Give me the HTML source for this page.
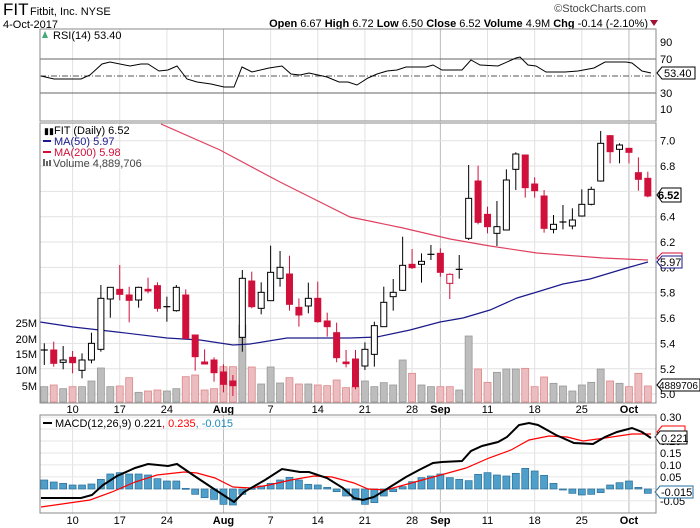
<!DOCTYPE html>
<html><head><meta charset="utf-8"><style>
html,body{margin:0;padding:0;background:#fff}
svg{display:block;font-family:"Liberation Sans",sans-serif}
</style></head><body>
<svg id="s" width="700" height="528" xmlns="http://www.w3.org/2000/svg">
<text x="3" y="15" font-size="17" fill="#000">FIT</text>
<text x="30" y="15" font-size="11" fill="#000">Fitbit, Inc.  NYSE</text>
<text x="3" y="28" font-size="11" fill="#000">4-Oct-2017</text>
<text x="646" y="12" font-size="11" fill="#444" text-anchor="end">©StockCharts.com</text>
<text x="648" y="27" font-size="11" fill="#000" text-anchor="end"><tspan font-weight="bold">Open</tspan> 6.67 <tspan font-weight="bold">High</tspan> 6.72 <tspan font-weight="bold">Low</tspan> 6.50 <tspan font-weight="bold">Close</tspan> 6.52 <tspan font-weight="bold">Volume</tspan> 4.9M <tspan font-weight="bold">Chg</tspan> -0.14 (-2.10%)</text>
<polygon points="650,20 658,20 654,26" fill="#a01030"/>
<g id="g"></g>
</svg>
<script>
var NS="http://www.w3.org/2000/svg",G=document.getElementById("g");
function el(t,a,txt){var e=document.createElementNS(NS,t);for(var k in a)e.setAttribute(k,a[k]);if(txt!=null)e.textContent=txt;G.appendChild(e);return e;}
function X(i){return 44.3+i*9.43;}
var L=40,R=656;
// panels
var panels=[[29,121],[123,403],[415,513]];
// vertical grid
var wk=[[3,"10"],[8,"17"],[13,"24"],[19,"Aug",1],[24,"7"],[29,"14"],[34,"21"],[39,"28"],[42,"Sep",1],[47,"11"],[52,"18"],[57,"25"],[62,"Oct",1]];
panels.forEach(function(p){
 el("rect",{x:L,y:p[0],width:R-L,height:p[1]-p[0],fill:"#fff",stroke:"none"});
 wk.forEach(function(w){el("line",{x1:X(w[0]),x2:X(w[0]),y1:p[0],y2:p[1],stroke:w[2]?"#bbb":"#e2e2e2","stroke-width":1});});
});
// RSI
[[42,"90"],[59,"70"],[93,"30"],[109,"10"]].forEach(function(a){el("text",{x:660,y:a[0]+4,"font-size":11},a[1]);});
el("line",{x1:L,x2:R,y1:59,y2:59,stroke:"#666"});
el("line",{x1:L,x2:R,y1:93,y2:93,stroke:"#666"});
el("line",{x1:L,x2:R,y1:76,y2:76,stroke:"#555","stroke-dasharray":"6,2,1,2"});
var rsi=[[41,76],[54,79],[81,79],[90,75],[102,64],[110,62],[130,66],[141,64],[148,64],[159,71],[168,70],[177,66],[187,79],[197,82],[211,84],[224,87],[234,87],[242,67],[252,72],[269,68],[282,66],[291,74],[300,75],[309,73],[327,77],[339,82],[348,82],[357,85],[368,78],[377,74],[387,71],[397,70],[406,67],[426,67],[433,65],[442,70],[462,70],[471,60],[480,65],[498,66],[516,58],[520,57],[528,65],[536,66],[546,72],[565,72],[578,71],[594,68],[605,62],[626,62],[632,63],[642,71],[651,73]];
el("polyline",{points:rsi.join(" "),fill:"none",stroke:"#000","stroke-width":1});
el("text",{x:53,y:39,"font-size":11},"RSI(14) 53.40");
el("polygon",{points:"42,38 45,31 48,38",fill:"#4a7"});
el("polygon",{points:"657,73 662,67 695,67 695,79 662,79",fill:"#fff",stroke:"#000"});
el("text",{x:664,y:77,"font-size":11},"53.40");
// main grid horizontal
function PY(p){return 140.7+(7-p)*126.7;}
for(var p=5.0;p<=7.01;p+=0.2){var y=PY(p);el("line",{x1:L,x2:R,y1:y,y2:y,stroke:"#e2e2e2"});el("text",{x:660,y:y+4,"font-size":11},p.toFixed(1));}
// volume labels
[[323,"25M"],[339,"20M"],[354,"15M"],[370,"10M"],[386,"5M"]].forEach(function(a){el("text",{x:37,y:a[0]+4,"font-size":11,"text-anchor":"end"},a[1]);});
// volumes (tops in zoom coords, zero 844)
var vol=[[800,0],[795,1],[806,0],[800,1],[800,0],[783,0],[744,0],[800,0],[798,1],[773,1],[817,0],[813,1],[810,1],[813,0],[806,0],[770,1],[765,1],[810,1],[806,1],[740,1],[740,1],[615,0],[741,1],[792,0],[741,0],[789,0],[773,1],[792,1],[792,0],[795,1],[797,1],[780,1],[803,1],[800,1],[783,0],[800,0],[788,0],[795,0],[720,0],[760,1],[795,0],[800,0],[800,1],[800,1],[810,0],[648,0],[747,1],[787,1],[757,0],[747,0],[747,0],[745,1],[800,1],[771,1],[790,0],[798,0],[813,0],[795,0],[787,0],[747,0],[783,1],[790,0],[800,1],[760,1],[798,1]];
vol.forEach(function(v,i){var t=120+v[0]/3;el("rect",{x:X(i)-3.5,y:t,width:7,height:402-t,fill:v[1]?"#ebbcc0":"#bdbdbd",stroke:v[1]?"#d88":"#999","stroke-width":0.8});});
// MAs
var ma200=[[161,124],[220,150],[280,182],[310,197],[350,217],[403,228],[450,239],[490,246],[537,253],[603,258],[648,260]];
el("polyline",{points:ma200.join(" "),fill:"none",stroke:"#e04060","stroke-width":1.2});
var ma50=[[40,322],[73,327],[117,332],[167,338],[200,340],[233,345],[250,344],[287,338],[350,338],[377,337],[410,330],[440,322],[463,318],[490,310],[517,298],[537,292],[563,284],[590,279],[610,273],[630,267],[648,262]];
el("polyline",{points:ma50.join(" "),fill:"none",stroke:"#1a1a8c","stroke-width":1.2});
// candles: [zoomIndex(2|3), open/close top, bottom, hi, lo, type] type:0 hollow black,1 red,2 cross,3 hollow red
var c=[[2,690,690,670,735,2],[2,690,730,665,740,1],[2,720,727,678,748,0],[2,712,728,693,760,1],[2,720,751,700,775,0],[2,670,720,638,730,0],[2,535,688,495,695,0],[2,502,537,502,593,0],[2,508,523,435,541,1],[2,525,541,500,607,1],[2,502,540,500,563,0],[2,508,513,473,520,1],[2,497,565,487,575,1],[2,560,560,530,605,2],[2,502,572,495,575,0],[2,525,655,508,657,1],[2,645,710,645,752,1],[2,726,732,688,733,1],[2,720,758,712,785,1],[2,756,793,733,817,1],[2,783,797,765,828,1],[2,475,652,450,695,0],[2,483,560,455,565,1],[2,517,565,487,583,0],[2,457,542,377,542,0],[2,442,475,393,500,0],[2,462,553,407,572,1],[2,562,585,535,620,1],[2,535,558,488,580,0],[2,535,605,485,608,1],[2,603,620,578,650,1],[2,638,713,608,727,1],[2,726,731,690,742,1],
[3,717,800,690,808,1],[3,688,738,667,750,0],[3,617,703,605,740,0],[3,547,620,500,620,0],[3,517,530,477,572,0],[3,436,511,350,513,0],[3,433,443,387,447,1],[3,424,433,400,488,0],[3,403,403,375,420,2],[3,400,457,385,470,1],[3,463,490,460,537,3],[3,448,448,405,476,2],[3,235,355,135,360,0],[3,183,307,137,313,1],[3,283,320,260,340,1],[3,320,340,243,378,0],[3,180,330,148,330,0],[3,102,148,97,210,0],[3,105,203,105,233,1],[3,192,212,172,233,1],[3,228,325,210,338,1],[3,313,328,285,340,0],[3,306,306,255,328,2],[3,300,318,265,328,0],[3,253,288,208,290,0],[3,208,253,200,256,0],[3,70,183,33,185,0],[3,47,95,45,130,1],[3,75,88,70,130,0],[3,85,97,85,130,1],[3,158,178,112,212,1],[3,175,228,155,232,1]];
c.forEach(function(d,i){var x=X(i),f=function(z){return 120+z/3;};var t=d[5];
 var col=(t==1||t==3)?"#d0103a":"#000";
 el("line",{x1:x,x2:x,y1:f(d[3]),y2:f(d[4]),stroke:col,"stroke-width":1});
 if(t==2){el("line",{x1:x-3.5,x2:x+3.5,y1:f(d[1]),y2:f(d[1]),stroke:"#000","stroke-width":1.2});return;}
 var h=Math.max(f(d[2])-f(d[1]),1.5);
 el("rect",{x:x-3,y:f(d[1]),width:6,height:h,fill:t==1?"#d0103a":"#fff",stroke:col,"stroke-width":1});
});
// legend
el("text",{x:54,y:134,"font-size":11},"FIT (Daily) 6.52");
el("text",{x:44,y:134,"font-size":9},"▮▮");
el("line",{x1:43,x2:51,y1:141,y2:141,stroke:"#1a1a8c","stroke-width":2});
el("text",{x:54,y:145,"font-size":11,fill:"#1a1a8c"},"MA(50) 5.97");
el("line",{x1:43,x2:51,y1:152,y2:152,stroke:"#d0103a","stroke-width":2});
el("text",{x:54,y:156,"font-size":11,fill:"#d0103a"},"MA(200) 5.98");
el("rect",{x:43,y:159,width:2,height:7,fill:"#666"});el("rect",{x:46,y:161,width:2,height:5,fill:"#666"});el("rect",{x:49,y:160,width:2,height:6,fill:"#666"});
el("text",{x:53,y:167,"font-size":11,fill:"#444"},"Volume 4,889,706");
// right boxes
el("polygon",{points:"657,195 662,188 681,188 681,202 662,202",fill:"#fff",stroke:"#000"});
el("text",{x:658,y:199,"font-size":11,"font-weight":"bold"},"6.52");
el("polygon",{points:"657,258 662,253 682,253 682,263 662,263",fill:"#fff",stroke:"#d0103a"});
el("polygon",{points:"657,262 662,256 682,256 682,268 662,268",fill:"#fff",stroke:"#1a1a8c"});
el("text",{x:660,y:266,"font-size":11},"5.97");
el("polygon",{points:"657,385 662,379 700,379 700,391 662,391",fill:"#fff",stroke:"#000"});
el("text",{x:659,y:389,"font-size":10},"4889706");
// date labels
wk.forEach(function(w){var a={x:X(w[0]),"font-size":11,"text-anchor":"middle"};if(w[2])a["font-weight"]="bold";
 a.y=413;el("text",a,w[1]);var b=Object.assign({},a);b.y=524;el("text",b,w[1]);});
// MACD
function MY(v){return 488.8-v*239;}
[0.30,0.25,0.20,0.15,0.10,0.05,0.00,-0.05].forEach(function(v){var y=MY(v);el("line",{x1:L,x2:R,y1:y,y2:y,stroke:"#e6e6e6"});el("text",{x:660,y:y+4,"font-size":11},v.toFixed(2));});
var hz=[240,246,250,255,255,252,238,222,218,222,222,225,236,243,243,265,283,293,298,313,315,283,265,258,250,240,232,240,253,255,262,275,288,300,313,308,288,275,260,245,233,228,222,233,238,242,223,218,225,228,220,205,213,226,250,270,280,285,283,278,255,248,243,262,280];
hz.forEach(function(z,i){var y=400+z/3,zy=489;var t=Math.min(y,zy),h=Math.max(Math.abs(y-zy),1);el("rect",{x:X(i)-3.5,y:t,width:7,height:h,fill:"#4f9fcb",stroke:"#2a6f98","stroke-width":0.7});});
var sig=[[41,507],[90,500],[112,492],[135,482],[157,475],[184,472],[197,473],[215,478],[233,487],[251,488],[269,485],[291,480],[314,476],[332,477],[354,483],[368,489],[386,490],[404,485],[426,479],[448,473],[466,468],[489,458],[511,450],[529,440],[549,436],[567,437],[583,441],[605,438],[632,434],[651,434]];
el("polyline",{points:sig.join(" "),fill:"none",stroke:"#f00","stroke-width":1.2});
var mac=[[41,498],[58,498],[81,498],[92,495],[103,485],[117,476],[135,468],[148,464],[168,466],[177,464],[193,475],[211,487],[234,502],[244,492],[265,480],[282,469],[300,472],[309,472],[327,478],[343,488],[354,498],[363,500],[374,497],[390,487],[406,477],[419,470],[433,463],[442,462],[462,461],[471,451],[482,446],[498,442],[507,437],[519,425],[529,423],[538,425],[556,435],[574,443],[593,444],[605,437],[617,432],[632,428],[642,432],[651,438]];
el("polyline",{points:mac.join(" "),fill:"none",stroke:"#000","stroke-width":2});
el("line",{x1:43,x2:52,y1:423,y2:423,stroke:"#000","stroke-width":2});
var tt=el("text",{x:55,y:427,"font-size":11});
tt.innerHTML='MACD(12,26,9) 0.221<tspan fill="#f00">, 0.235</tspan><tspan fill="#1f8ac0">, -0.015</tspan>';
el("polygon",{points:"657,432 662,426 685,426 685,438 662,438",fill:"#fff",stroke:"#f00"});
el("polygon",{points:"655,437 660,431 687,431 687,444 660,444",fill:"#fff",stroke:"#000"});
el("text",{x:661,y:442,"font-size":11},"0.221");
el("polygon",{points:"655,492 660,486 693,486 693,498 660,498",fill:"#fff",stroke:"#1f6fa0"});
el("text",{x:661,y:496,"font-size":11},"-0.015");
// borders
panels.forEach(function(p){el("rect",{x:L,y:p[0],width:R-L,height:p[1]-p[0],fill:"none",stroke:"#888","stroke-width":1});});
</script>
</body></html>
